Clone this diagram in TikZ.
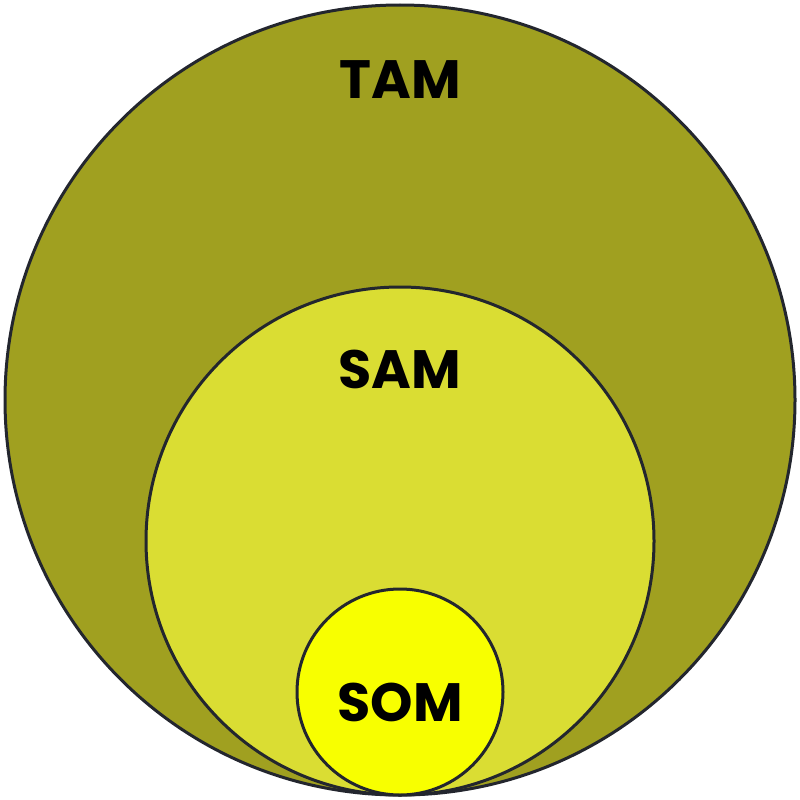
\documentclass[tikz,border=0pt]{standalone}
\usepackage{fontspec}
\setmainfont{Poppins}[BoldFont={* Bold}]
\definecolor{tamc}{HTML}{A0A020}
\definecolor{samc}{HTML}{DADD33}
\definecolor{somc}{HTML}{F8FF00}
\definecolor{edge}{HTML}{23262E}
\begin{document}
\begin{tikzpicture}[x=1pt,y=-1pt,
  ring/.style={draw=edge,line width=3pt},
  lbl/.style={font=\fontsize{54}{54}\selectfont\bfseries,text=black,inner sep=0pt,anchor=center}]
\useasboundingbox (0,0) rectangle (800,800);
\fill[tamc,ring] (400,400) circle (395);
\fill[samc,ring] (400,541) circle (254);
\fill[somc,ring] (400,692) circle (103);
\node[lbl] (tam) at (400,80) {TAM};
\node[lbl] (sam) at (400,369) {SAM};
\node[lbl] (som) at (400,702) {SOM};
\end{tikzpicture}
\end{document}
